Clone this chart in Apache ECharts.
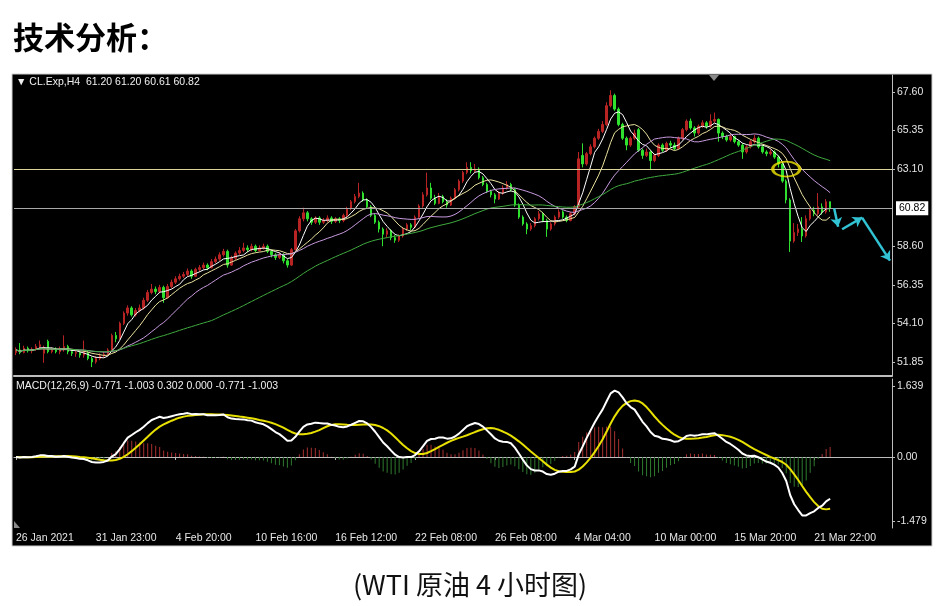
<!DOCTYPE html>
<html><head><meta charset="utf-8">
<script src="https://cdn.jsdelivr.net/npm/echarts@6/dist/echarts.min.js"></script>
<style>html,body{margin:0;padding:0;background:#fff}#c{width:940px;height:606px}</style>
</head><body><div id="c"></div>
<script>
// ---- price bars (H4) ----
const opens = [52.40,52.55,52.40,52.65,52.50,52.60,52.75,52.35,53.05,52.45,52.60,52.45,52.60,52.75,52.45,52.35,52.40,52.25,52.40,52.05,51.85,52.05,52.20,52.30,
52.55,53.40,53.20,54.10,54.70,55.00,54.60,54.85,55.00,55.45,55.90,56.10,55.95,56.20,55.60,56.25,56.50,56.70,56.85,56.95,57.15,56.85,57.25,57.35,57.50,57.35,57.70,57.85,58.10,58.30,57.50,57.90,58.20,58.35,58.50,58.40,58.60,58.35,58.50,58.60,58.30,58.10,57.95,58.10,57.75,
57.50,58.40,59.50,60.20,60.55,60.20,60.00,60.25,60.00,60.10,60.25,60.05,60.20,60.10,60.40,60.80,61.20,61.50,61.70,61.30,60.90,60.40,60.00,59.60,59.30,59.50,59.10,58.95,59.20,59.60,59.85,59.70,60.30,60.95,61.60,62.00,61.40,61.10,61.50,61.20,61.00,61.40,61.90,62.40,62.90,63.20,63.00,63.10,62.60,62.20,61.80,61.60,61.35,61.70,62.00,62.20,61.90,61.00,60.30,59.90,59.60,59.80,60.20,60.50,60.10,59.60,59.90,60.30,60.60,60.30,60.10,60.50,
60.90,63.90,63.40,64.00,64.40,64.90,65.30,65.70,66.80,67.40,66.60,65.70,64.90,64.50,64.90,65.40,64.20,63.90,64.10,63.60,63.90,64.50,64.20,64.60,64.50,64.30,64.90,65.40,65.90,65.50,65.20,65.60,65.80,65.60,65.90,66.00,65.20,65.00,64.80,65.00,64.70,64.50,64.10,64.40,64.70,64.90,64.40,64.10,64.00,64.10,63.80,63.40,62.40,61.30,58.90,59.40,59.60,59.20,60.20,60.70,60.50,60.90,60.60,61.20];
const closes = [52.55,52.40,52.65,52.50,52.60,52.75,52.85,52.70,52.45,52.60,52.45,52.60,52.75,52.45,52.35,52.40,52.25,52.40,52.05,51.85,52.05,52.20,52.30,52.55,
53.40,53.20,54.10,54.70,55.00,54.60,54.85,55.00,55.45,55.90,56.10,55.95,56.20,55.60,56.25,56.50,56.70,56.85,56.95,57.15,56.85,57.25,57.35,57.50,57.35,57.70,57.85,58.10,58.30,57.50,57.90,58.20,58.35,58.50,58.40,58.60,58.35,58.50,58.60,58.30,58.10,57.95,58.10,57.75,57.50,
58.40,59.50,60.20,60.55,60.20,60.00,60.25,60.00,60.10,60.25,60.05,60.20,60.10,60.40,60.80,61.20,61.50,61.70,61.30,60.90,60.40,60.00,59.60,59.30,59.50,59.10,58.95,59.20,59.60,59.85,59.70,60.30,60.95,61.60,62.00,61.40,61.10,61.50,61.20,61.00,61.40,61.90,62.40,62.90,63.20,63.00,63.10,62.60,62.20,61.80,61.60,61.35,61.70,62.00,62.20,61.90,61.00,60.30,59.90,59.60,59.80,60.20,60.50,60.10,59.60,59.90,60.30,60.60,60.30,60.10,60.50,60.90,
63.70,63.40,64.00,64.40,64.90,65.30,65.70,66.80,67.40,66.60,65.70,64.90,64.50,64.90,65.20,64.20,63.90,64.10,63.60,63.90,64.50,64.20,64.60,64.50,64.30,64.90,65.40,65.90,65.50,65.20,65.60,65.80,65.60,65.90,66.00,65.20,65.00,64.80,65.00,64.70,64.50,64.10,64.40,64.70,64.90,64.40,64.10,64.00,64.10,63.80,63.40,62.40,61.30,58.90,59.40,59.60,59.20,60.20,60.70,60.50,60.90,60.60,61.20,60.82];
const lows = [52.25,52.30,52.35,52.40,52.35,52.50,52.60,51.80,52.35,52.35,52.35,52.30,52.45,52.30,52.20,52.15,52.10,52.10,51.95,51.55,51.75,51.95,52.10,52.20,
52.50,53.00,53.15,54.00,54.55,54.50,54.50,54.75,54.90,55.35,55.80,55.80,55.85,55.30,55.55,56.15,56.40,56.60,56.75,56.85,56.70,56.80,57.10,57.25,57.20,57.30,57.60,57.75,58.00,57.35,57.45,57.80,58.10,58.25,58.25,58.30,58.25,58.30,58.40,58.20,57.95,57.80,57.85,57.60,57.35,
57.45,58.35,59.40,60.05,60.05,59.85,59.90,59.85,59.90,60.00,59.90,59.95,59.95,60.00,60.30,60.70,61.10,61.40,61.20,60.80,60.30,59.90,59.40,58.60,59.10,58.95,58.80,58.85,59.10,59.50,59.55,59.65,60.20,60.85,61.50,61.30,61.00,61.05,61.10,60.85,60.95,61.30,61.80,62.30,62.80,62.85,62.90,62.50,62.10,61.70,61.45,61.10,61.30,61.60,61.90,61.80,60.90,60.20,59.80,59.30,59.50,59.70,60.10,60.00,59.15,59.50,59.80,60.20,60.20,60.00,60.05,60.40,
60.80,63.20,63.30,63.90,64.30,64.80,65.20,65.60,66.70,66.50,65.60,64.80,64.20,64.40,64.80,64.10,63.70,63.80,63.05,63.50,63.80,64.10,64.10,64.35,64.20,64.25,64.80,65.30,65.40,65.00,65.10,65.50,65.45,65.50,65.80,64.70,64.85,64.70,64.70,64.60,64.40,63.70,64.00,64.30,64.60,64.30,64.00,63.85,63.90,63.70,63.20,62.30,61.10,58.27,58.80,59.20,58.85,59.10,60.10,60.35,60.40,60.45,60.50,60.61];
const highs = [52.70,52.95,52.80,52.75,52.70,52.90,53.10,52.80,53.15,52.70,52.70,52.75,53.40,52.85,52.55,52.50,52.50,53.10,52.50,52.15,52.20,52.35,52.45,52.65,
53.50,53.60,54.20,54.80,55.15,55.10,55.00,55.20,55.60,56.05,56.40,56.25,56.35,56.30,56.40,56.65,56.85,57.00,57.10,57.30,57.25,57.35,57.50,57.65,57.60,57.85,58.00,58.25,58.45,58.40,58.05,58.30,58.55,58.80,58.65,58.75,58.70,58.65,58.75,58.70,58.40,58.20,58.25,58.20,57.85,
58.50,59.60,60.35,60.85,60.65,60.30,60.35,60.35,60.25,60.40,60.35,60.30,60.30,60.50,60.90,61.30,61.65,62.30,61.80,61.40,61.00,60.50,60.10,59.70,59.65,59.60,59.25,59.30,59.70,59.95,59.95,60.40,61.05,61.75,62.90,62.30,61.60,61.70,61.60,61.35,61.50,62.00,62.50,63.00,63.50,63.50,63.40,63.20,62.70,62.30,61.90,61.70,61.80,62.15,62.40,62.30,62.00,61.10,60.40,60.00,59.95,60.30,60.65,60.60,60.20,60.00,60.40,60.75,60.70,60.40,60.60,61.00,
64.10,64.60,64.10,64.55,65.00,65.45,65.90,67.00,67.70,67.50,66.70,65.80,65.00,65.00,65.40,65.50,64.30,64.30,64.20,64.00,64.60,64.60,64.70,64.75,64.65,65.00,65.50,66.00,66.05,65.60,65.70,65.95,65.90,66.30,66.40,66.05,65.30,65.10,65.15,65.05,64.80,64.60,64.50,64.80,65.10,65.00,64.50,64.20,64.25,64.20,63.90,63.50,62.50,61.40,59.95,59.90,60.30,60.40,60.85,60.90,61.70,61.10,61.35,61.20];

// ---- axes / labels ----
const xTickLabels = ['26 Jan 2021','31 Jan 23:00','4 Feb 20:00','10 Feb 16:00','16 Feb 12:00','22 Feb 08:00','26 Feb 08:00','4 Mar 04:00','10 Mar 00:00','15 Mar 20:00','21 Mar 22:00'];
const priceTicks = [67.60,65.35,63.10,58.60,56.35,54.10,51.85];
const macdTicks = [1.639,0,-1.479];
const macdTickText = ['1.639','0.00','-1.479'];
const macdHeader = ['-0.771','-1.003','0.302','0.000','-0.771','-1.003'];
const hLevel = 63.10;           // drawn horizontal line
const bidLevel = 60.82;         // current price line
const ellipseAt = [193, 63.10]; // yellow marker
const arrowSegs = [[[205,60.82],[206,59.74]],[[207,59.59],[212,60.27]],[[212,60.27],[219,57.76]]];
const SLOTS = 220;              // bars + chart shift

const cats = Array.from({length: SLOTS}, (_, i) => String(i));
const candle = opens.map((o, i) => [o, closes[i], lows[i], highs[i]]);
const ma = (src, n) => src.map((_, i) => { const s = Math.max(0, i - n + 1); let t = 0; for (let k = s; k <= i; k++) t += src[k]; return +(t / (i - s + 1)).toFixed(3); });
const ema = (src, n) => { const a = 2 / (n + 1); const out = []; src.forEach((v, i) => out.push(i ? out[i - 1] + a * (v - out[i - 1]) : v)); return out; };
const e12 = ema(closes, 12), e26 = ema(closes, 26);
const macd = closes.map((_, i) => +(e12[i] - e26[i]).toFixed(4));
const signal = ma(macd, 9);
const hist = macd.map((v, i) => +(v - signal[i]).toFixed(4));

const axisFont = {color: '#e6e6e6', fontSize: 10.5, fontFamily: 'Liberation Sans'};
const labelEvery = (i) => i % 20 === 0 && i / 20 < xTickLabels.length;
const last = opens.length - 1;
const hdr = '\u25BC CL.Exp,H4  ' + [opens[last], highs[last], lows[last], closes[last]].map(v => v.toFixed(2)).join(' ');

const chart = echarts.init(document.getElementById('c'), null, {renderer: 'canvas'});
const lineS = (name, data, color, w) => ({name, type: 'line', xAxisIndex: 0, yAxisIndex: 0, data, showSymbol: false, symbol: 'none', z: 3,
  lineStyle: {color, width: w || 1}, emphasis: {disabled: true}});

chart.setOption({
  animation: false,
  backgroundColor: '#ffffff',
  graphic: [
    {type: 'rect', z: -10, shape: {x: 12, y: 74, width: 920, height: 472}, style: {fill: '#000', stroke: '#cfcfcf', lineWidth: 1}},
    {type: 'polygon', z: 100, shape: {points: [[709, 75], [719, 75], [714, 81]]}, style: {fill: '#8a8a8a'}},
    {type: 'polygon', z: 100, shape: {points: [[14, 521], [14, 528], [20, 528]]}, style: {fill: '#8a8a8a'}}
  ],
  title: [
    {text: '技术分析：', left: 13, top: 22, padding: 0, textStyle: {fontSize: 31, fontWeight: 'bold', color: '#000', fontFamily: 'Noto Sans CJK SC'}},
    {text: '(WTI 原油 4 小时图)', left: 'center', top: 571, padding: 0, textStyle: {fontSize: 27, fontWeight: 'normal', color: '#111', fontFamily: 'Noto Sans CJK SC'}},
    {text: hdr, left: 16, top: 77, padding: 0, textStyle: {fontSize: 10.5, fontWeight: 'normal', color: '#f0f0f0', fontFamily: 'Liberation Sans'}},
    {text: 'MACD(12,26,9) ' + macdHeader.join(' '), left: 16, top: 381, padding: 0, textStyle: {fontSize: 10.5, fontWeight: 'normal', color: '#f0f0f0', fontFamily: 'Liberation Sans'}}
  ],
  grid: [
    {left: 14, right: 48, top: 75, height: 301},
    {left: 14, right: 48, top: 379, height: 149}
  ],
  xAxis: [
    {type: 'category', gridIndex: 0, data: cats, boundaryGap: true,
      axisLine: {show: true, lineStyle: {color: '#bdbdbd', width: 2}}, axisTick: {show: false}, axisLabel: {show: false}, splitLine: {show: false}},
    {type: 'category', gridIndex: 1, data: cats, boundaryGap: true,
      axisLine: {show: true, lineStyle: {color: '#bdbdbd'}},
      axisTick: {show: true, interval: labelEvery, alignWithLabel: true, length: 3, lineStyle: {color: '#bdbdbd'}},
      axisLabel: Object.assign({show: true, interval: labelEvery, align: 'left', margin: 5, formatter: (v, i) => xTickLabels[i / 20] || ''}, axisFont),
      splitLine: {show: false}}
  ],
  yAxis: [
    {type: 'value', gridIndex: 0, position: 'right', min: 51.03, max: 68.59, scale: true,
      axisLine: {show: true, lineStyle: {color: '#bdbdbd'}},
      axisTick: {show: true, customValues: priceTicks, length: 3, lineStyle: {color: '#bdbdbd'}},
      axisLabel: Object.assign({customValues: priceTicks, margin: 5, formatter: v => v.toFixed(2)}, axisFont),
      splitLine: {show: false}},
    {type: 'value', gridIndex: 1, position: 'right', min: -1.64, max: 1.80,
      axisLine: {show: true, lineStyle: {color: '#bdbdbd'}},
      axisTick: {show: true, customValues: macdTicks, length: 3, lineStyle: {color: '#bdbdbd'}},
      axisLabel: Object.assign({customValues: macdTicks, margin: 5, formatter: v => macdTickText[macdTicks.findIndex(t => Math.abs(t - v) < 1e-6)] || ''}, axisFont),
      splitLine: {show: false}}
  ],
  series: [
    {type: 'candlestick', xAxisIndex: 0, yAxisIndex: 0, data: candle, barWidth: 2, z: 2,
      itemStyle: {color: '#b82424', color0: '#2fe02f', borderColor: '#b82424', borderColor0: '#2fe02f', borderWidth: 1},
      emphasis: {disabled: true},
      markLine: {silent: true, symbol: ['none', 'none'], animation: false,
        data: [
          {yAxis: hLevel, lineStyle: {color: '#d8d49a', width: 1, type: 'solid'}, label: {show: false}},
          {yAxis: bidLevel, lineStyle: {color: '#a8a8a8', width: 1, type: 'solid'},
            label: {show: true, position: 'end', distance: 4, formatter: bidLevel.toFixed(2), color: '#000', backgroundColor: '#fff',
              padding: [2, 3, 1, 3], fontSize: 10.5, fontFamily: 'Liberation Sans'}}
        ]}},
    lineS('MA5', ma(closes, 5), '#ffffff'),
    lineS('MA10', ma(closes, 10), '#ece3a0'),
    lineS('MA20', ma(closes, 20), '#c99be0'),
    lineS('MA50', ma(closes, 50), '#3faa3f'),
    {type: 'scatter', xAxisIndex: 0, yAxisIndex: 0, data: [ellipseAt], symbol: 'circle', symbolSize: [27, 15], z: 5,
      itemStyle: {color: 'rgba(0,0,0,0)', borderColor: '#f3e600', borderWidth: 2.5}, emphasis: {disabled: true}},
    {type: 'lines', coordinateSystem: 'cartesian2d', xAxisIndex: 0, yAxisIndex: 0, z: 6,
      symbol: ['none', 'arrow'], symbolSize: 9,
      lineStyle: {color: '#31c3d3', width: 2.5, curveness: 0, opacity: 1},
      data: arrowSegs.map(s => ({coords: s}))},
    {type: 'bar', xAxisIndex: 1, yAxisIndex: 1, barWidth: 1, z: 2,
      data: hist.map(v => ({value: v, itemStyle: {color: v >= 0 ? '#a83030' : '#2f7a2f'}})), emphasis: {disabled: true}},
    {type: 'line', xAxisIndex: 1, yAxisIndex: 1, data: macd, showSymbol: false, symbol: 'none', z: 4, lineStyle: {color: '#ffffff', width: 2}},
    {type: 'line', xAxisIndex: 1, yAxisIndex: 1, data: signal, showSymbol: false, symbol: 'none', z: 3, lineStyle: {color: '#e8e000', width: 2}}
  ]
});
</script>
</body></html>
